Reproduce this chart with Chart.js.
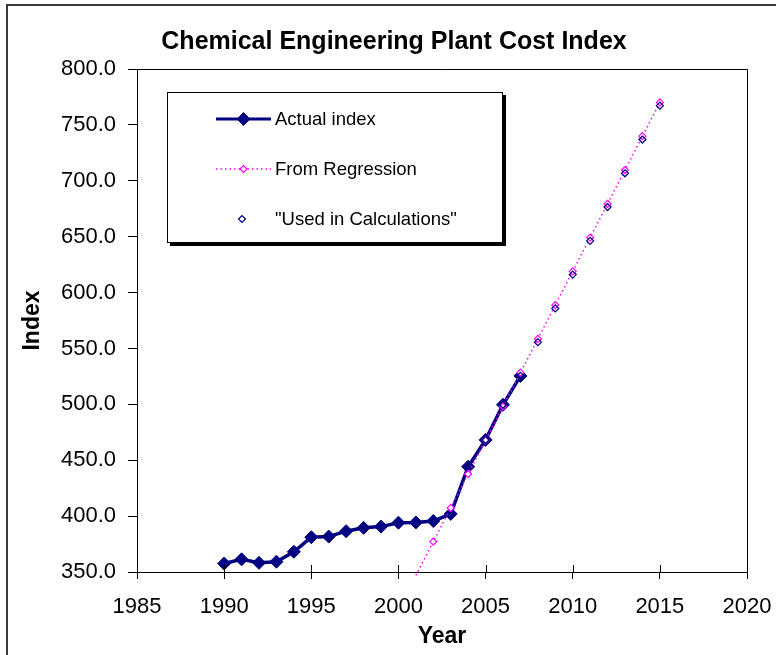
<!DOCTYPE html>
<html>
<head>
<meta charset="utf-8">
<title>Chemical Engineering Plant Cost Index</title>
<script src="https://cdn.jsdelivr.net/npm/chart.js@4.4.1/dist/chart.umd.min.js"></script>
<style>
  html, body { margin: 0; padding: 0; background: #fff; }
  canvas { display: block; }
</style>
</head>
<body>
<canvas id="cepci" width="776" height="655"></canvas>
<script>
// ---- data ----
const chartTitle = 'Chemical Engineering Plant Cost Index';
const xAxisTitle = 'Year';
const yAxisTitle = 'Index';
const seriesNames = ['Actual index', 'From Regression', '"Used in Calculations"'];

const years = [1990, 1991, 1992, 1993, 1994, 1995, 1996, 1997, 1998, 1999,
               2000, 2001, 2002, 2003, 2004, 2005, 2006, 2007];
const actualIndex = [357.6, 361.3, 358.2, 359.2, 368.1, 381.1, 381.7, 386.5, 389.5, 390.6,
                     394.1, 394.3, 395.6, 402.0, 444.2, 468.2, 499.6, 525.4];

const regressionYears = [2001, 2002, 2003, 2004, 2005, 2006, 2007, 2008,
                         2009, 2010, 2011, 2012, 2013, 2014, 2015];
const regressionIndex = [347.0, 377.2, 407.4, 437.7, 467.9, 498.1, 528.3, 558.5,
                         588.8, 619.0, 649.2, 679.4, 709.6, 739.9, 770.1];

const usedYears = [2005, 2006, 2007, 2008, 2009, 2010, 2011, 2012, 2013, 2014, 2015];
const usedIndex = [468.2, 499.6, 525.4, 555.6, 585.8, 616.1, 646.3, 676.5, 706.7, 736.9, 767.2];

const xTickRange = { min: 1985, max: 2020, step: 5 };
const yTickRange = { min: 350, max: 800, step: 50 };

// ---- styling ----
const FONT = "'Liberation Sans', Arial, Helvetica, sans-serif";
const NAVY = '#000080';
const MAGENTA = '#FF00FF';

const toPoints = (xs, ys) => xs.map((x, i) => ({ x, y: ys[i] }));

function diamond(ctx, x, y, r, fill, stroke, lw) {
  ctx.beginPath();
  ctx.moveTo(x - r, y);
  ctx.lineTo(x, y - r);
  ctx.lineTo(x + r, y);
  ctx.lineTo(x, y + r);
  ctx.closePath();
  if (fill) { ctx.fillStyle = fill; ctx.fill(); }
  if (stroke) { ctx.strokeStyle = stroke; ctx.lineWidth = lw; ctx.stroke(); }
}

// frame, title, plot border, inward tick halves and the boxed legend
const decor = {
  id: 'decor',
  beforeDraw(chart) {
    const { ctx, width, height } = chart;
    ctx.save();
    ctx.fillStyle = '#fff';
    ctx.fillRect(0, 0, width, height);
    ctx.restore();
  },
  afterDraw(chart) {
    const { ctx, chartArea: a, scales: { x } } = chart;
    ctx.save();

    // outer chart frame
    ctx.strokeStyle = '#3a3a3a';
    ctx.lineWidth = 2;
    ctx.beginPath();
    ctx.moveTo(7, chart.height + 5);
    ctx.lineTo(7, 5);
    ctx.lineTo(chart.width + 5, 5);
    ctx.stroke();

    // top and right sides of the plot area
    ctx.strokeStyle = '#000';
    ctx.lineWidth = 1;
    ctx.beginPath();
    ctx.moveTo(a.left, a.top + 0.5);
    ctx.lineTo(a.right + 0.5, a.top + 0.5);
    ctx.lineTo(a.right + 0.5, a.bottom);
    ctx.stroke();

    // x ticks cross the axis: draw the part inside the plot
    ctx.beginPath();
    x.ticks.forEach(t => {
      const px = Math.round(x.getPixelForValue(t.value)) + 0.5;
      ctx.moveTo(px, a.bottom - 7);
      ctx.lineTo(px, a.bottom);
    });
    ctx.stroke();

    // title
    ctx.fillStyle = '#000';
    ctx.font = 'bold 25px ' + FONT;
    ctx.textAlign = 'center';
    ctx.textBaseline = 'alphabetic';
    ctx.fillText(chartTitle, 394, 49);

    // legend box with drop shadow
    const L = { x: 167, y: 92, w: 336, h: 151 };
    ctx.fillStyle = '#000';
    ctx.fillRect(L.x + 3, L.y + 3, L.w, L.h);
    ctx.fillStyle = '#fff';
    ctx.fillRect(L.x, L.y, L.w, L.h);
    ctx.strokeStyle = '#000';
    ctx.lineWidth = 1;
    ctx.strokeRect(L.x + 0.5, L.y + 0.5, L.w - 1, L.h - 1);

    const rows = [119, 169, 219];
    // actual index sample
    ctx.strokeStyle = NAVY;
    ctx.lineWidth = 3;
    ctx.beginPath();
    ctx.moveTo(216, rows[0]);
    ctx.lineTo(271, rows[0]);
    ctx.stroke();
    diamond(ctx, 243.5, rows[0], 6.5, NAVY, NAVY, 1);
    // regression sample
    ctx.strokeStyle = MAGENTA;
    ctx.lineWidth = 1.5;
    ctx.setLineDash([1.5, 3]);
    ctx.beginPath();
    ctx.moveTo(216, rows[1]);
    ctx.lineTo(271, rows[1]);
    ctx.stroke();
    ctx.setLineDash([]);
    diamond(ctx, 243.5, rows[1], 3.5, '#fff', MAGENTA, 1.2);
    // used-in-calculations sample
    diamond(ctx, 242, rows[2], 3.5, '#fff', NAVY, 1.2);

    ctx.fillStyle = '#000';
    ctx.font = '18.5px ' + FONT;
    ctx.textAlign = 'left';
    ctx.textBaseline = 'alphabetic';
    ctx.fillText(seriesNames[0], 275, rows[0] + 6);
    ctx.fillText(seriesNames[1], 275, rows[1] + 6);
    ctx.fillText(seriesNames[2], 275, rows[2] + 6);

    ctx.restore();
  }
};

new Chart(document.getElementById('cepci'), {
  type: 'line',
  data: {
    datasets: [
      {
        label: seriesNames[0],
        data: toPoints(years, actualIndex),
        borderColor: NAVY,
        backgroundColor: NAVY,
        borderWidth: 3.5,
        pointStyle: 'rectRot',
        pointRadius: 6.5,
        pointBorderWidth: 1,
        pointBorderColor: NAVY,
        pointBackgroundColor: NAVY,
        tension: 0,
        order: 3
      },
      {
        label: seriesNames[1],
        data: toPoints(regressionYears, regressionIndex),
        borderColor: MAGENTA,
        borderWidth: 1.5,
        borderDash: [1.5, 3],
        pointStyle: 'rectRot',
        pointRadius: ctx => (ctx.raw && ctx.raw.y < yTickRange.min ? 0 : 3.5),
        pointBorderWidth: 1.2,
        pointBorderColor: MAGENTA,
        pointBackgroundColor: '#fff',
        clip: { left: 0, top: 0, right: 0, bottom: 6 },
        tension: 0,
        order: 2
      },
      {
        label: seriesNames[2],
        data: toPoints(usedYears, usedIndex),
        showLine: false,
        pointStyle: 'rectRot',
        pointRadius: 3.5,
        pointBorderWidth: 1.2,
        pointBorderColor: NAVY,
        pointBackgroundColor: 'rgba(255,255,255,0)',
        order: 1
      }
    ]
  },
  options: {
    responsive: false,
    animation: false,
    events: [],
    layout: { padding: { top: 69, right: 29, bottom: 0, left: 0 } },
    plugins: {
      legend: { display: false },
      title: { display: false },
      tooltip: { enabled: false }
    },
    scales: {
      x: {
        type: 'linear',
        min: xTickRange.min,
        max: xTickRange.max,
        ticks: {
          stepSize: xTickRange.step,
          color: '#000',
          font: { family: FONT, size: 22 },
          padding: 15,
          maxRotation: 0,
          autoSkip: false,
          callback: v => String(v)
        },
        grid: { drawOnChartArea: false, drawTicks: true, tickLength: 7, color: '#000', lineWidth: 1 },
        border: { display: true, color: '#000', width: 1 },
        title: {
          display: true,
          text: xAxisTitle,
          color: '#000',
          font: { family: FONT, size: 23, weight: 'bold' },
          padding: { top: 0, bottom: 5 }
        },
        afterFit(s) {
          s.height = 83;
          s.paddingLeft = 0;
          s.paddingRight = 0;
        }
      },
      y: {
        type: 'linear',
        min: yTickRange.min,
        max: yTickRange.max,
        ticks: {
          stepSize: yTickRange.step,
          color: '#000',
          font: { family: FONT, size: 22 },
          padding: 12,
          callback: v => Number(v).toFixed(1)
        },
        grid: { drawOnChartArea: false, drawTicks: true, tickLength: 9, color: '#000', lineWidth: 1 },
        border: { display: true, color: '#000', width: 1 },
        title: {
          display: true,
          text: yAxisTitle,
          color: '#000',
          font: { family: FONT, size: 23, weight: 'bold' },
          padding: { top: 19, bottom: 0 }
        },
        afterFit(s) { s.width = 137; }
      }
    }
  },
  plugins: [decor]
});
</script>
</body>
</html>
